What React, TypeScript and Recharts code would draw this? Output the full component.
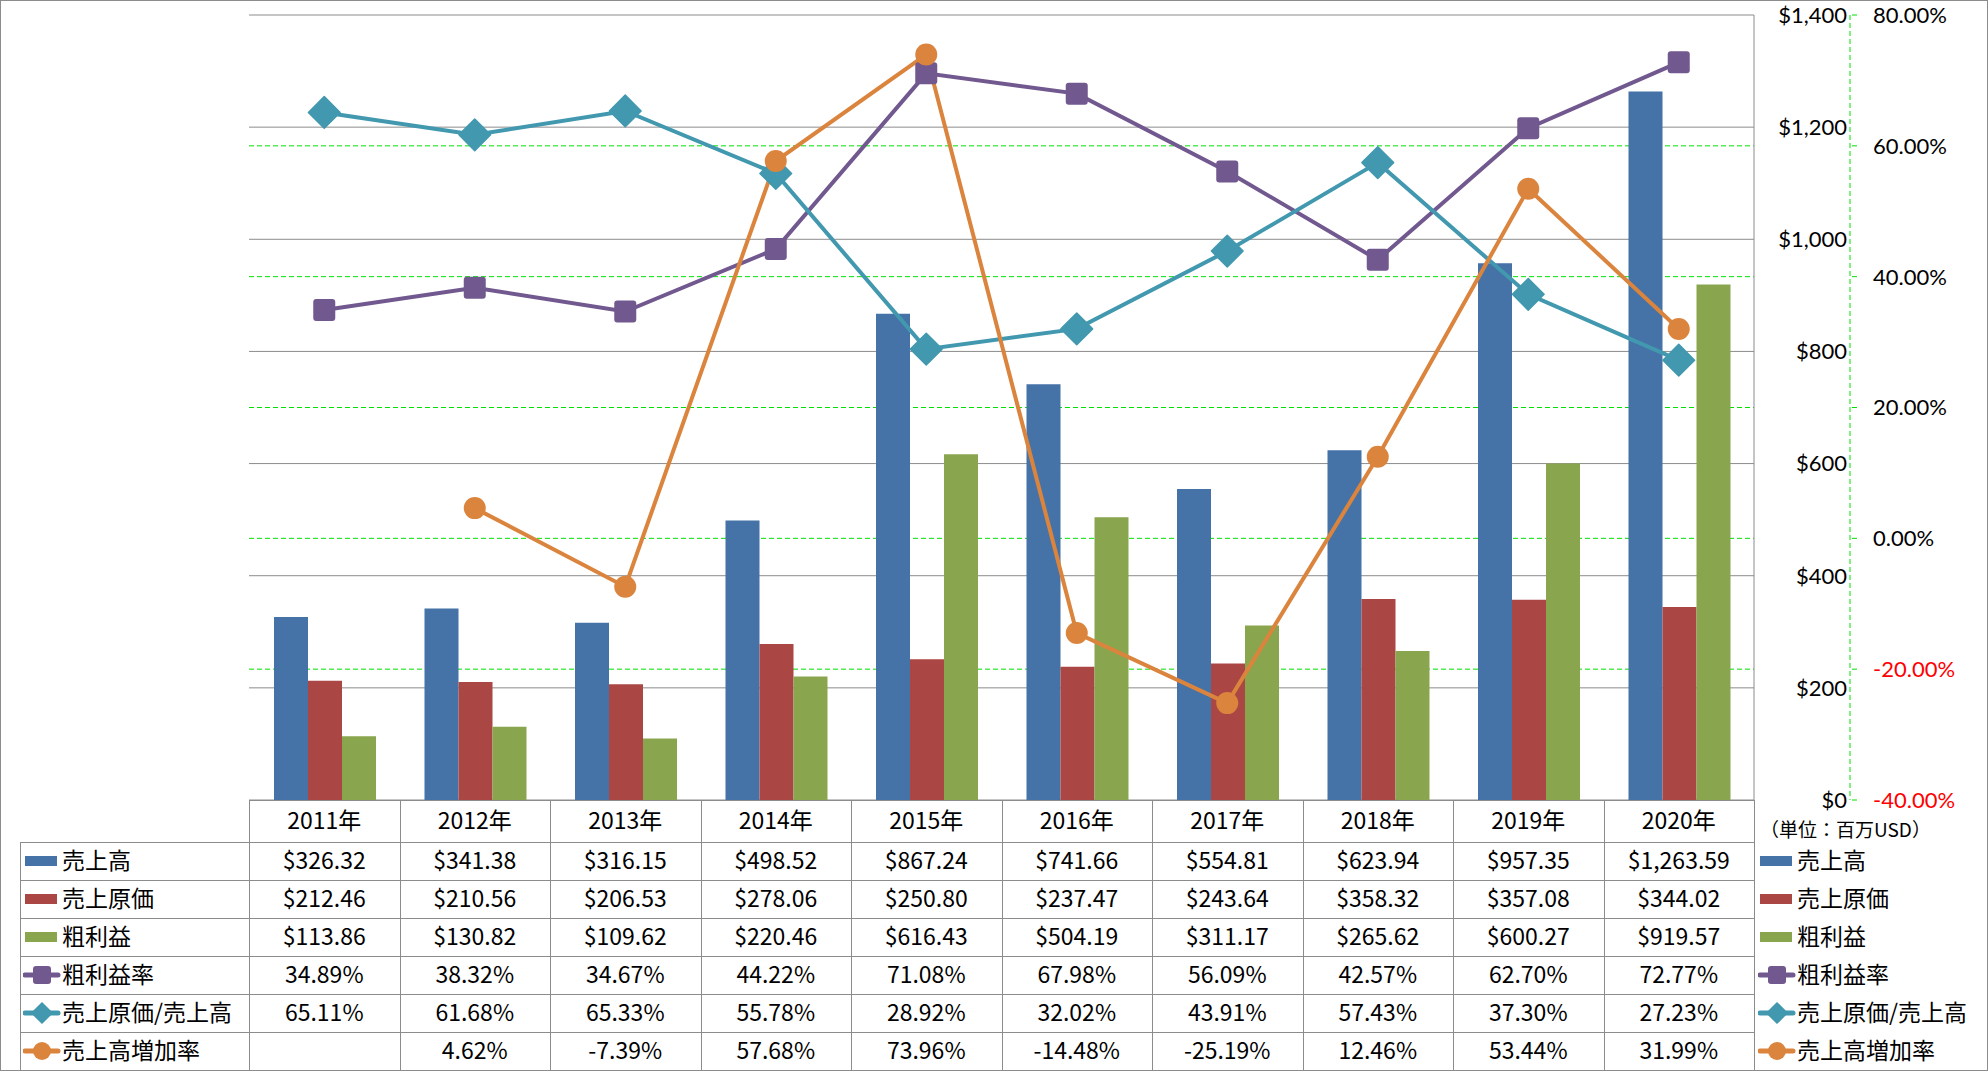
import React from 'react';
import { ComposedChart, Bar, Line, XAxis, YAxis, CartesianGrid } from 'recharts';

// ---------------- data ----------------
const years = ['2011年', '2012年', '2013年', '2014年', '2015年', '2016年', '2017年', '2018年', '2019年', '2020年'];
const revenue = [326.32, 341.38, 316.15, 498.52, 867.24, 741.66, 554.81, 623.94, 957.35, 1263.59];
const costOfSales = [212.46, 210.56, 206.53, 278.06, 250.8, 237.47, 243.64, 358.32, 357.08, 344.02];
const grossProfit = [113.86, 130.82, 109.62, 220.46, 616.43, 504.19, 311.17, 265.62, 600.27, 919.57];
const grossMargin = [34.89, 38.32, 34.67, 44.22, 71.08, 67.98, 56.09, 42.57, 62.7, 72.77];
const costRatio = [65.11, 61.68, 65.33, 55.78, 28.92, 32.02, 43.91, 57.43, 37.3, 27.23];
const revenueGrowth: (number | null)[] = [null, 4.62, -7.39, 57.68, 73.96, -14.48, -25.19, 12.46, 53.44, 31.99];
const usdTicks = [0, 200, 400, 600, 800, 1000, 1200, 1400];
const pctTicks = [-40, -20, 0, 20, 40, 60, 80];
const unitLabel = '（単位：百万USD）';

// ---------------- layout / style ----------------
const W = 1988;
const H = 1071;
const PLOT_L = 249;
const PLOT_R = 1754;
const PLOT_T = 15;
const PLOT_B = 800;
const USD_AXIS_W = 96;
const PCT_AXIS_W = 120;
const TABLE_L = 20;
const HEADER_H = 42;
const ROW_H = 38;
const FONT = "'Noto Sans CJK JP', 'Noto Sans', sans-serif";
const TICK_FONT = "Lato, 'Noto Sans', sans-serif";
const FS = 23;
const TICK_FS = 22;
const USD_ID = 'axis1';
const PCT_ID = 'axis2';

const COL = {
  blue: '#4572A7',
  red: '#AA4643',
  green: '#89A54E',
  purple: '#71588F',
  teal: '#4198AF',
  orange: '#DB843D',
  grid: '#8C8C8C',
  dash: '#00E000',
  text: '#000000',
};

const fmtUsd = (v: number) =>
  '$' + v.toLocaleString('en-US', { minimumFractionDigits: 2, maximumFractionDigits: 2 });
const fmtPct = (v: number | null) => (v === null ? '' : v.toFixed(2) + '%');

const data = years.map((y, i) => ({
  year: y,
  revenue: revenue[i],
  costOfSales: costOfSales[i],
  grossProfit: grossProfit[i],
  grossMargin: grossMargin[i],
  costRatio: costRatio[i],
  revenueGrowth: revenueGrowth[i],
}));

type Shape = 'bar' | 'square' | 'diamond' | 'circle';
const rows: { name: string; shape: Shape; color: string; values: (number | null)[]; fmt: (v: any) => string }[] = [
  { name: '売上高', shape: 'bar', color: COL.blue, values: revenue, fmt: fmtUsd },
  { name: '売上原価', shape: 'bar', color: COL.red, values: costOfSales, fmt: fmtUsd },
  { name: '粗利益', shape: 'bar', color: COL.green, values: grossProfit, fmt: fmtUsd },
  { name: '粗利益率', shape: 'square', color: COL.purple, values: grossMargin, fmt: fmtPct },
  { name: '売上原価/売上高', shape: 'diamond', color: COL.teal, values: costRatio, fmt: fmtPct },
  { name: '売上高増加率', shape: 'circle', color: COL.orange, values: revenueGrowth, fmt: fmtPct },
];

// ---------------- markers ----------------
function Marker({ shape, cx, cy, color, s }: { shape: Shape; cx: number; cy: number; color: string; s: number }) {
  if (shape === 'square')
    return <rect x={cx - s / 2} y={cy - s / 2} width={s} height={s} rx={3} fill={color} />;
  if (shape === 'diamond') {
    const h = s * 0.72;
    return <polygon points={`${cx},${cy - h} ${cx + h},${cy} ${cx},${cy + h} ${cx - h},${cy}`} fill={color} strokeLinejoin="round" stroke={color} strokeWidth={1.5} />;
  }
  return <circle cx={cx} cy={cy} r={s / 2} fill={color} />;
}

const makeDot = (shape: Shape, color: string, s: number) => (props: any) => {
  const { cx, cy, index } = props;
  if (cx == null || cy == null || props.value == null) return <g key={`d${index}`} />;
  return (
    <g key={`d${index}`}>
      <Marker shape={shape} cx={cx} cy={cy} color={color} s={s} />
    </g>
  );
};

function LegendIcon({ shape, color }: { shape: Shape; color: string }) {
  return (
    <svg width={39} height={24} style={{ display: 'block', flex: 'none' }}>
      {shape === 'bar' ? (
        <rect x={2} y={7} width={32} height={10} fill={color} />
      ) : (
        <g>
          <line x1={2} y1={12} x2={35} y2={12} stroke={color} strokeWidth={5} strokeLinecap="round" />
          <Marker shape={shape} cx={19} cy={12} color={color} s={shape === 'diamond' ? 14 : 18} />
        </g>
      )}
    </svg>
  );
}

// ---------------- ticks ----------------
const UsdTick = (props: any) => {
  const { x, y, payload } = props;
  return (
    <text x={x + 93} y={y} dy="0.36em" textAnchor="end" fontFamily={TICK_FONT} fontSize={TICK_FS} fill={COL.text}>
      {'$' + Number(payload.value).toLocaleString('en-US')}
    </text>
  );
};

const PctTick = (props: any) => {
  const { x, y, payload } = props;
  const v = Number(payload.value);
  return (
    <text x={x} y={y} dy="0.36em" textAnchor="start" fontFamily={TICK_FONT} fontSize={TICK_FS} fill={v < 0 ? '#FF0000' : COL.text}>
      {v.toFixed(2) + '%'}
    </text>
  );
};

// ---------------- data table ----------------
function DataTable() {
  const colW = (PLOT_R - PLOT_L) / years.length;
  const els: React.ReactNode[] = [];
  const lineStyle = { position: 'absolute' as const, background: COL.grid };
  const rowTop = (r: number) => PLOT_B + HEADER_H + r * ROW_H;
  const bottom = rowTop(rows.length);
  const T = -2; // text vertical nudge

  els.push(<div key="h-top" style={{ ...lineStyle, left: PLOT_L, top: PLOT_B, width: PLOT_R - PLOT_L + 1, height: 1 }} />);
  for (let r = 0; r <= rows.length; r++) {
    els.push(
      <div key={`h${r}`} style={{ ...lineStyle, left: TABLE_L, top: rowTop(r), width: PLOT_R - TABLE_L + 1, height: 1 }} />
    );
  }
  els.push(<div key="v-left" style={{ ...lineStyle, left: TABLE_L, top: rowTop(0), width: 1, height: bottom - rowTop(0) }} />);
  for (let c = 0; c <= years.length; c++) {
    els.push(
      <div key={`v${c}`} style={{ ...lineStyle, left: PLOT_L + c * colW, top: PLOT_B, width: 1, height: bottom - PLOT_B }} />
    );
  }
  const cellText = { position: 'absolute' as const, display: 'flex', alignItems: 'center', justifyContent: 'center', fontFamily: FONT, fontSize: FS, color: COL.text, whiteSpace: 'nowrap' as const };
  years.forEach((y, c) => {
    els.push(
      <div key={`hdr${c}`} style={{ ...cellText, left: PLOT_L + c * colW, top: PLOT_B + T, width: colW, height: HEADER_H }}>
        {y}
      </div>
    );
  });
  rows.forEach((row, r) => {
    els.push(
      <div key={`lab${r}`} style={{ ...cellText, justifyContent: 'flex-start', left: TABLE_L + 3, top: rowTop(r), height: ROW_H }}>
        <LegendIcon shape={row.shape} color={row.color} />
        <span style={{ position: 'relative', top: T }}>{row.name}</span>
      </div>
    );
    row.values.forEach((v, c) => {
      els.push(
        <div key={`c${r}-${c}`} style={{ ...cellText, left: PLOT_L + c * colW, top: rowTop(r) + T, width: colW, height: ROW_H }}>
          {row.fmt(v)}
        </div>
      );
    });
    els.push(
      <div key={`rl${r}`} style={{ ...cellText, justifyContent: 'flex-start', left: PLOT_R + 4, top: rowTop(r), height: ROW_H }}>
        <LegendIcon shape={row.shape} color={row.color} />
        <span style={{ position: 'relative', top: T }}>{row.name}</span>
      </div>
    );
  });
  els.push(
    <div key="unit" style={{ ...cellText, justifyContent: 'flex-start', left: PLOT_R + 6, top: PLOT_B + 13, height: 30, fontSize: 19 }}>
      {unitLabel}
    </div>
  );
  return <>{els}</>;
}

export default function App() {
  return (
    <div style={{ position: 'absolute', left: 0, top: 0, width: W, height: H, background: '#fff', overflow: 'hidden' }}>
      <div style={{ position: 'absolute', left: 0, top: 0 }}>
        <ComposedChart
          width={W}
          height={H}
          data={data}
          barCategoryGap={25}
          barGap={0}
          margin={{ top: PLOT_T, left: PLOT_L, right: W - PLOT_R - USD_AXIS_W - PCT_AXIS_W, bottom: H - PLOT_B }}
        >
          <XAxis dataKey="year" hide />
          <YAxis
            yAxisId={PCT_ID}
            orientation="right"
            domain={[pctTicks[0], pctTicks[pctTicks.length - 1]]}
            ticks={pctTicks}
            interval={0}
            width={PCT_AXIS_W}
            axisLine={{ stroke: COL.dash, strokeDasharray: '5 3', strokeWidth: 1 }}
            tickLine={{ stroke: COL.dash, strokeDasharray: '5 3', strokeWidth: 1 }}
            tickSize={7}
            tickMargin={16}
            tick={PctTick}
          />
          <YAxis
            yAxisId={USD_ID}
            orientation="right"
            domain={[usdTicks[0], usdTicks[usdTicks.length - 1]]}
            ticks={usdTicks}
            interval={0}
            width={USD_AXIS_W}
            axisLine={{ stroke: COL.grid, strokeWidth: 1 }}
            tickLine={false}
            tickSize={0}
            tickMargin={0}
            tick={UsdTick}
          />
          <CartesianGrid
            yAxisId={PCT_ID}
            vertical={false}
            horizontalValues={pctTicks.slice(1, -1)}
            stroke={COL.dash}
            strokeDasharray="5 3"
          />
          <CartesianGrid yAxisId={USD_ID} vertical={false} stroke={COL.grid} />
          <Bar yAxisId={USD_ID} dataKey="revenue" fill={COL.blue} isAnimationActive={false} />
          <Bar yAxisId={USD_ID} dataKey="costOfSales" fill={COL.red} isAnimationActive={false} />
          <Bar yAxisId={USD_ID} dataKey="grossProfit" fill={COL.green} isAnimationActive={false} />
          <Line yAxisId={PCT_ID} dataKey="grossMargin" stroke={COL.purple} strokeWidth={4} dot={makeDot('square', COL.purple, 22)} activeDot={false} isAnimationActive={false} />
          <Line yAxisId={PCT_ID} dataKey="costRatio" stroke={COL.teal} strokeWidth={4} dot={makeDot('diamond', COL.teal, 22)} activeDot={false} isAnimationActive={false} />
          <Line yAxisId={PCT_ID} dataKey="revenueGrowth" stroke={COL.orange} strokeWidth={4} dot={makeDot('circle', COL.orange, 22)} activeDot={false} isAnimationActive={false} />
        </ComposedChart>
      </div>
      <DataTable />
      <div style={{ position: 'absolute', left: 0, top: 0, width: W, height: H, boxSizing: 'border-box', border: `1px solid ${COL.grid}`, pointerEvents: 'none' }} />
    </div>
  );
}
